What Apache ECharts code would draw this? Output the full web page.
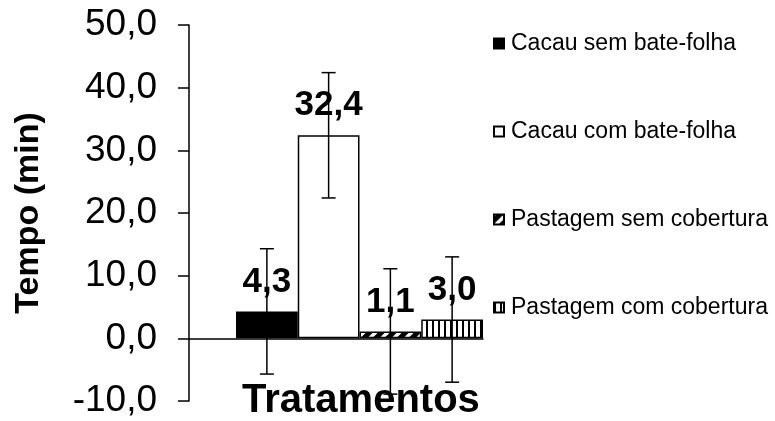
<!DOCTYPE html>
<html>
<head>
<meta charset="utf-8">
<script src="https://cdn.jsdelivr.net/npm/echarts@6/dist/echarts.min.js"></script>
<style>
html,body{margin:0;padding:0;background:#fff;}
#chart{width:775px;height:421px;}
</style>
</head>
<body>
<div id="chart"></div>
<script>
// ---- data ----
const categories = ['Cacau sem bate-folha', 'Cacau com bate-folha', 'Pastagem sem cobertura', 'Pastagem com cobertura'];
const values = [4.3, 32.4, 1.1, 3.0];
const errors = [10.0, 10.0, 10.0, 10.0];
const yTicks = [-10, 0, 10, 20, 30, 40, 50];

const FONT = '"Liberation Sans", Arial, sans-serif';
const fmt = v => Number(v).toFixed(1).replace('.', ',');

function patternVertical() {
  const c = document.createElement('canvas');
  c.width = 6; c.height = 6;
  const g = c.getContext('2d');
  g.fillStyle = '#fff'; g.fillRect(0, 0, 6, 6);
  g.fillStyle = '#000'; g.fillRect(0, 0, 2, 6);
  return c;
}
function patternDiag() {
  const n = 12;
  const c = document.createElement('canvas');
  c.width = n; c.height = n;
  const g = c.getContext('2d');
  g.fillStyle = '#000'; g.fillRect(0, 0, n, n);
  g.strokeStyle = '#fff'; g.lineWidth = 3.5;
  [[0, n, n, 0], [-n / 2, n / 2, n / 2, -n / 2], [n / 2, n * 1.5, n * 1.5, n / 2]].forEach(p => {
    g.beginPath(); g.moveTo(p[0], p[1]); g.lineTo(p[2], p[3]); g.stroke();
  });
  return c;
}

const fills = [
  '#000000',
  '#ffffff',
  { image: patternDiag(), repeat: 'repeat' },
  { image: patternVertical(), repeat: 'repeat' }
];

const barSeries = categories.map((name, i) => ({
  name: name,
  type: 'bar',
  xAxisIndex: 1,
  yAxisIndex: 1,
  stack: 'all',
  barCategoryGap: '0%',
  data: values.map((v, j) => (j === i ? v : '-')),
  itemStyle: { color: fills[i], borderColor: '#000', borderWidth: 1.5 },
  label: {
    show: true,
    position: 'top',
    distance: 12,
    formatter: p => fmt(p.value),
    fontFamily: FONT,
    fontSize: 35,
    fontWeight: 'bold',
    color: '#000'
  },
  emphasis: { disabled: true },
  animation: false
}));

const errSeries = {
  name: 'err',
  type: 'custom',
  xAxisIndex: 1,
  yAxisIndex: 1,
  z: 10,
  data: values.map((v, i) => [i, v, errors[i]]),
  renderItem: function (params, api) {
    const i = api.value(0), v = api.value(1), e = api.value(2);
    const top = api.coord([i, v + e]);
    const bot = api.coord([i, v - e]);
    const x = top[0];
    const hw = 7;
    const st = { stroke: '#000', lineWidth: 1.5 };
    return {
      type: 'group',
      children: [
        { type: 'line', shape: { x1: x, y1: top[1], x2: x, y2: bot[1] }, style: st },
        { type: 'line', shape: { x1: x - hw, y1: top[1], x2: x + hw, y2: top[1] }, style: st },
        { type: 'line', shape: { x1: x - hw, y1: bot[1], x2: x + hw, y2: bot[1] }, style: st }
      ]
    };
  },
  animation: false
};

const chart = echarts.init(document.getElementById('chart'), null, { renderer: 'canvas' });
chart.setOption({
  backgroundColor: '#fff',
  animation: false,
  textStyle: { fontFamily: FONT },
  title: {
    text: 'Tratamentos',
    left: 242,
    top: 381,
    padding: 0,
    z: 1,
    textStyle: { fontFamily: FONT, fontSize: 40, fontWeight: 'bold', color: '#000' }
  },
  grid: [
    { left: 189, right: 292, top: 25, bottom: 20, containLabel: false, outerBoundsMode: 'none' },
    { left: 236, right: 292, top: 25, bottom: 20, containLabel: false, outerBoundsMode: 'none' }
  ],
  legend: {
    orient: 'vertical',
    left: 488,
    top: 27,
    itemWidth: 10,
    itemHeight: 10,
    itemGap: 65,
    icon: 'rect',
    data: categories,
    selectedMode: false,
    textStyle: { fontFamily: FONT, fontSize: 23, color: '#000', padding: [0, 0, 0, 2] }
  },
  xAxis: [
    {
      gridIndex: 0,
      type: 'category',
      data: [''],
      axisLine: { onZero: true, lineStyle: { color: '#000', width: 1.5 } },
      axisTick: { show: false },
      axisLabel: { show: false },
      splitLine: { show: false }
    },
    {
      gridIndex: 1,
      type: 'category',
      data: categories,
      show: false
    }
  ],
  yAxis: [
    {
      gridIndex: 0,
      type: 'value',
      min: yTicks[0],
      max: yTicks[yTicks.length - 1],
      interval: 10,
      axisLine: { show: true, lineStyle: { color: '#000', width: 1.5 } },
      axisTick: { show: true, inside: false, length: 11, lineStyle: { color: '#000', width: 1.5 } },
      axisLabel: { fontFamily: FONT, fontSize: 37, color: '#000', margin: 32, formatter: v => fmt(v) },
      splitLine: { show: false },
      name: 'Tempo (min)',
      nameLocation: 'middle',
      nameRotate: 90,
      nameGap: 143,
      nameTextStyle: { fontFamily: FONT, fontSize: 34, fontWeight: 'bold', color: '#000' }
    },
    {
      gridIndex: 1,
      type: 'value',
      min: yTicks[0],
      max: yTicks[yTicks.length - 1],
      interval: 10,
      show: false
    }
  ],
  series: barSeries.concat([errSeries])
});
</script>
</body>
</html>
